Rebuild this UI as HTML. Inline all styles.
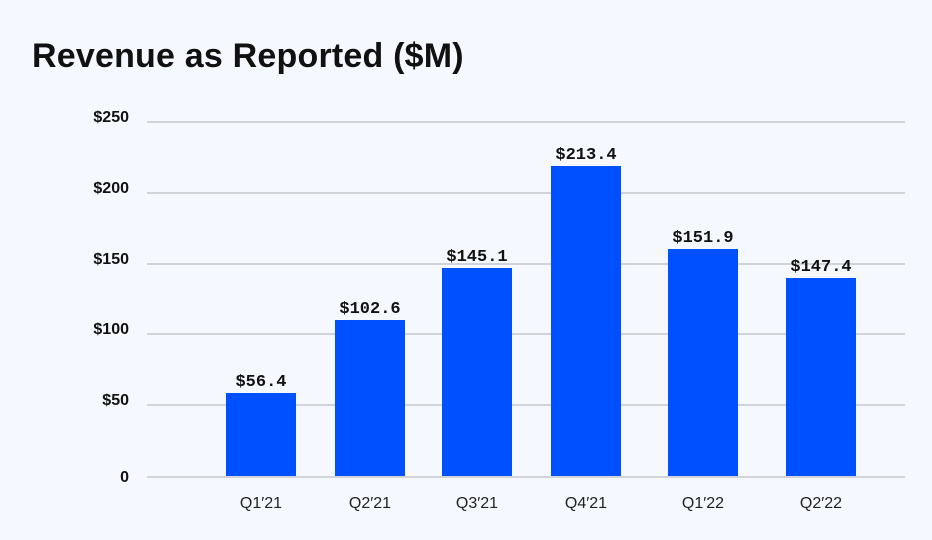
<!DOCTYPE html>
<html><head><meta charset="utf-8"><style>
html,body{margin:0;padding:0;background:#f5f8fe;}
svg{display:block}
</style></head><body>
<svg width="932" height="540" viewBox="0 0 932 540" xmlns="http://www.w3.org/2000/svg">
<rect width="932" height="540" fill="#f5f8fe"/>
<text x="32" y="67" font-family="Liberation Sans, sans-serif" font-weight="bold" font-size="34" letter-spacing="0.2" fill="#111">Revenue as Reported ($M)</text>
<g stroke="#d0d3d8" stroke-width="2">
<line x1="147" x2="905" y1="122" y2="122"/>
<line x1="147" x2="905" y1="193" y2="193"/>
<line x1="147" x2="905" y1="264" y2="264"/>
<line x1="147" x2="905" y1="334" y2="334"/>
<line x1="147" x2="905" y1="405" y2="405"/>
<line x1="147" x2="905" y1="477" y2="477"/>
</g>
<g font-family="Liberation Sans, sans-serif" font-weight="bold" font-size="16" fill="#111" text-anchor="end">
<text x="129" y="122">$250</text>
<text x="129" y="193">$200</text>
<text x="129" y="264">$150</text>
<text x="129" y="334">$100</text>
<text x="129" y="405">$50</text>
<text x="129" y="482">0</text>
</g>
<g fill="#0050ff">
<rect x="226" y="393" width="70" height="83"/>
<rect x="335" y="320" width="70" height="156"/>
<rect x="442" y="268" width="70" height="208"/>
<rect x="551" y="166" width="70" height="310"/>
<rect x="668" y="249" width="70" height="227"/>
<rect x="786" y="278" width="70" height="198"/>
</g>
<g font-family="Liberation Mono, monospace" font-weight="bold" font-size="17" fill="#111" text-anchor="middle">
<text x="261" y="386">$56.4</text>
<text x="370" y="313">$102.6</text>
<text x="477" y="261">$145.1</text>
<text x="586" y="159">$213.4</text>
<text x="703" y="242">$151.9</text>
<text x="821" y="271">$147.4</text>
</g>
<g font-family="Liberation Sans, sans-serif" font-size="16" fill="#222" text-anchor="middle">
<text x="261" y="508">Q1′21</text>
<text x="370" y="508">Q2′21</text>
<text x="477" y="508">Q3′21</text>
<text x="586" y="508">Q4′21</text>
<text x="703" y="508">Q1′22</text>
<text x="821" y="508">Q2′22</text>
</g>
</svg>
</body></html>
